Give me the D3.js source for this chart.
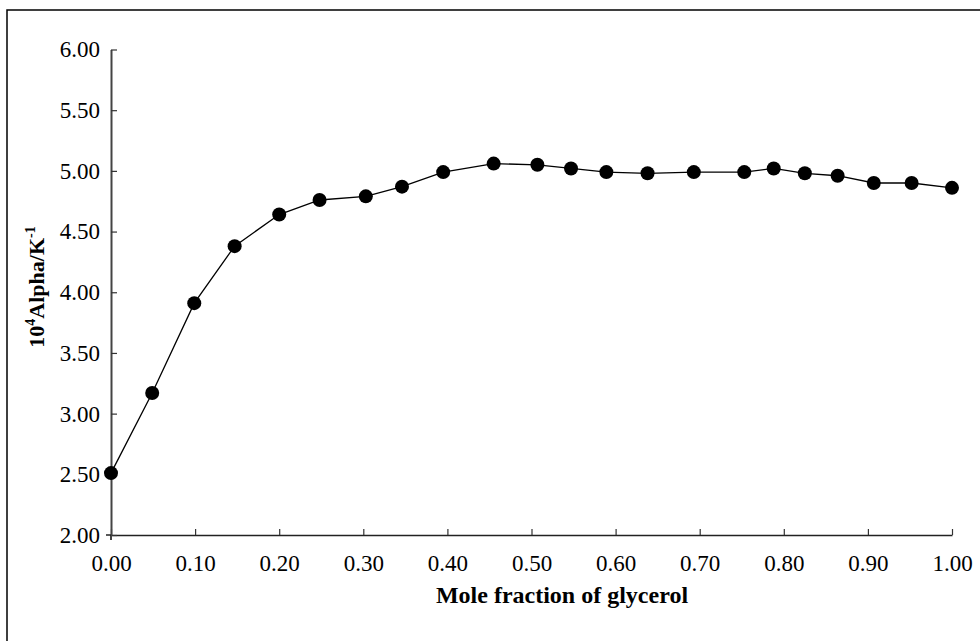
<!DOCTYPE html>
<html>
<head>
<meta charset="utf-8">
<script src="https://cdn.jsdelivr.net/npm/d3@7/dist/d3.min.js"></script>
<style>
  html, body { margin: 0; padding: 0; background: #fff; }
  svg { display: block; }
  text { font-family: "Liberation Serif", "DejaVu Serif", serif; fill: #000; }
</style>
</head>
<body>
<svg id="chart" width="980" height="641"></svg>
<script>
// Data
const moleFraction = [0.000, 0.049, 0.099, 0.147, 0.200, 0.248, 0.303, 0.346, 0.395, 0.455, 0.507,
                      0.547, 0.589, 0.638, 0.693, 0.753, 0.788, 0.825, 0.864, 0.907, 0.952, 1.000];
const alpha = [2.51, 3.17, 3.91, 4.38, 4.64, 4.76, 4.79, 4.87, 4.99, 5.06, 5.05,
               5.02, 4.99, 4.98, 4.99, 4.99, 5.02, 4.98, 4.96, 4.90, 4.90, 4.86];
const xTicks = [0, 0.1, 0.2, 0.3, 0.4, 0.5, 0.6, 0.7, 0.8, 0.9, 1.0];
const yTicks = [2.0, 2.5, 3.0, 3.5, 4.0, 4.5, 5.0, 5.5, 6.0];
const xTitle = "Mole fraction of glycerol";

const svg = d3.select("#chart");

// outer frame
svg.append("rect").attr("x", 7).attr("y", 10).attr("width", 990).attr("height", 650)
  .attr("fill", "none").attr("stroke", "#000").attr("stroke-width", 1.5);

const x = d3.scaleLinear().domain([0, 1]).range([111, 952]);
const y = d3.scaleLinear().domain([2, 6]).range([535, 49.5]);

const fmt = d3.format(".2f");

// X axis
const gx = svg.append("g").attr("transform", `translate(0,${y(2)})`)
  .call(d3.axisBottom(x).tickValues(xTicks).tickFormat(fmt).tickSizeInner(-6).tickSizeOuter(0).tickPadding(20));
gx.select(".domain").attr("stroke", "#222").attr("stroke-width", 1.5);
gx.selectAll(".tick line").attr("stroke", "#333").attr("stroke-width", 1.2);
gx.selectAll(".tick text").attr("font-size", 23).attr("font-family", "Liberation Serif, serif");

// Y axis
const gy = svg.append("g").attr("transform", `translate(${x(0)},0)`)
  .call(d3.axisLeft(y).tickValues(yTicks).tickFormat(fmt).tickSizeInner(-6).tickSizeOuter(0).tickPadding(11));
gy.select(".domain").attr("stroke", "#444").attr("stroke-width", 2);
gy.selectAll(".tick line").attr("stroke", "#333").attr("stroke-width", 1.2);
gy.selectAll(".tick text").attr("font-size", 23).attr("font-family", "Liberation Serif, serif");
// small downward extension of y axis and left stub of x axis
gy.append("line").attr("x1", 0).attr("x2", 0).attr("y1", y(2)).attr("y2", y(2) + 5)
  .attr("stroke", "#444").attr("stroke-width", 2);
gy.append("line").attr("x1", -5).attr("x2", 0).attr("y1", y(2)).attr("y2", y(2))
  .attr("stroke", "#222").attr("stroke-width", 1.5);

// Line
const pts = moleFraction.map((m, i) => [m, alpha[i]]);
svg.append("path").datum(pts)
  .attr("fill", "none").attr("stroke", "#000").attr("stroke-width", 1.3)
  .attr("d", d3.line().x(d => x(d[0])).y(d => y(d[1])));

// Markers
svg.selectAll("circle.pt").data(pts).enter().append("circle")
  .attr("class", "pt")
  .attr("cx", d => x(d[0])).attr("cy", d => y(d[1])).attr("r", 7)
  .attr("fill", "#000");

// X title
svg.append("text").attr("x", 562).attr("y", 603).attr("text-anchor", "middle")
  .attr("font-size", 24).attr("font-weight", "bold").text(xTitle);

// Y title
const yt = svg.append("text")
  .attr("transform", "translate(44,287) rotate(-90)")
  .attr("text-anchor", "middle").attr("font-size", 22).attr("font-weight", "bold");
yt.append("tspan").text("10");
yt.append("tspan").attr("dy", -9).attr("font-size", 14).text("4");
yt.append("tspan").attr("dy", 9).text("Alpha/K");
yt.append("tspan").attr("dy", -9).attr("font-size", 14).text("-1");
</script>
</body>
</html>
